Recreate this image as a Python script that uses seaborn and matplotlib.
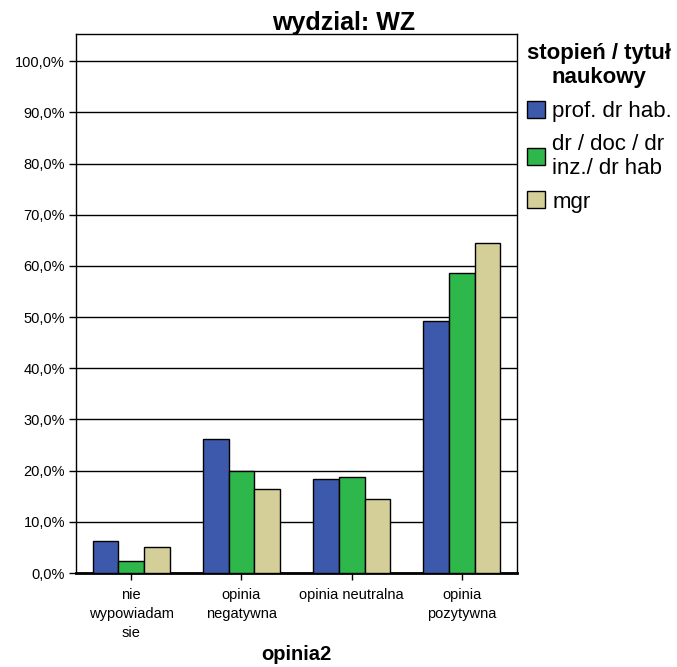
import matplotlib
matplotlib.use("Agg")
import matplotlib.pyplot as plt
from matplotlib.ticker import FuncFormatter, MultipleLocator
import seaborn as sns
import pandas as pd

# Kategorie opinii (os X) i grupy stopni naukowych (hue)
kategorie = ["nie\nwypowiadam\nsie", "opinia\nnegatywna", "opinia neutralna", "opinia\npozytywna"]
grupy = ["prof. dr hab.", "dr / doc / dr\ninz./ dr hab", "mgr"]

# Procenty
prof_dr_hab = [6.3, 26.2, 18.3, 49.2]
dr_doc = [2.4, 20.0, 18.8, 58.7]
mgr = [5.0, 16.4, 14.5, 64.4]

kolory = ["#3D59AB", "#2EB84B", "#D4CE98"]

wiersze = []
for grupa, wartosci in zip(grupy, [prof_dr_hab, dr_doc, mgr]):
    for kat, w in zip(kategorie, wartosci):
        wiersze.append({"opinia2": kat, "procent": w, "stopien": grupa})
dane = pd.DataFrame(wiersze)

sns.set_style("white")
plt.rcParams["font.family"] = ["Liberation Sans", "DejaVu Sans"]
plt.rcParams["text.color"] = "black"
plt.rcParams["axes.labelcolor"] = "black"
plt.rcParams["xtick.color"] = "black"
plt.rcParams["ytick.color"] = "black"

figura = plt.figure(figsize=(6.77, 6.67), dpi=100)
area = figura.add_axes([0.1123, 0.1409, 0.6514, 0.8081])

area.yaxis.grid(True, color="black", linewidth=1.0, zorder=0)
area.set_axisbelow(True)

sns.barplot(
    data=dane, x="opinia2", y="procent", hue="stopien",
    order=kategorie, hue_order=grupy, palette=kolory,
    edgecolor="black", linewidth=1.0, width=0.7, gap=0,
    saturation=1, ax=area, zorder=3
)

area.set_ylim(0, 105.3)
area.set_xlim(-0.5, 3.5)
area.yaxis.set_major_locator(MultipleLocator(10))
area.yaxis.set_major_formatter(
    FuncFormatter(lambda v, p: f"{v:.1f}%".replace(".", ","))
)
area.tick_params(axis="both", which="major", direction="out", length=5,
                 width=1, color="black", pad=3)
area.tick_params(axis="y", labelsize=10.5, left=True)
area.tick_params(axis="x", labelsize=10.5, bottom=True, pad=6)
for etiqueta in area.get_xticklabels():
    etiqueta.set_linespacing(1.45)

for lado in ["left", "right", "top"]:
    area.spines[lado].set_color("black")
    area.spines[lado].set_linewidth(1.0)
area.spines["bottom"].set_color("black")
area.spines["bottom"].set_linewidth(2.0)

# Titulo y etiqueta X colocados respecto a la figura, como en el original
figura.text(0.507, 0.965, "wydzial: WZ", fontsize=18, fontweight="bold",
            ha="center", va="center")
area.set_xlabel("")
figura.text(0.4372, 0.018, "opinia2", fontsize=14.5, fontweight="bold",
            ha="center", va="center")
area.set_ylabel("")

leyenda = area.legend(
    title="stopień / tytuł\nnaukowy", loc="upper left",
    bbox_to_anchor=(1.022, 0.983), frameon=False, fontsize=16,
    title_fontproperties={"weight": "bold", "size": 16},
    handlelength=0.8, handleheight=0.8, handletextpad=0.35,
    labelspacing=0.55, borderaxespad=0.0, borderpad=0.0
)
leyenda.get_title().set_multialignment("center")
leyenda.get_title().set_linespacing(1.2)

figura.savefig("out.png", dpi=100)
plt.close(figura)
